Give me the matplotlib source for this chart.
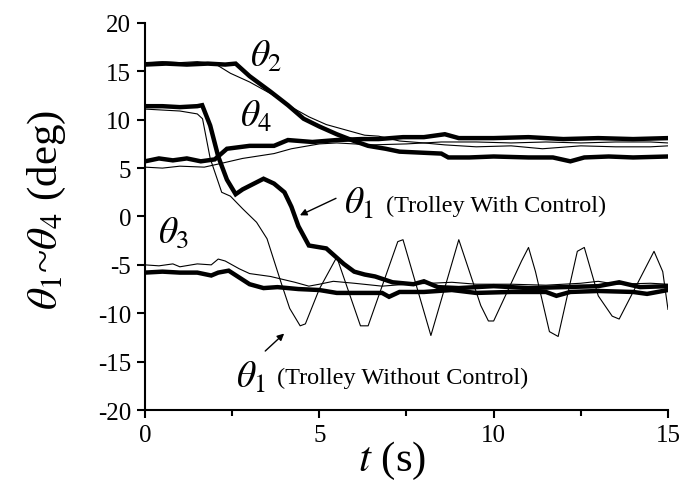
import matplotlib
matplotlib.use("Agg")
import matplotlib.pyplot as plt
from matplotlib.ticker import MultipleLocator

plt.rcParams['font.family'] = ['Liberation Serif', 'DejaVu Serif']
plt.rcParams['mathtext.fontset'] = 'stix'
plt.rcParams['axes.unicode_minus'] = False

# theta2 (thick = trolley with control, thin = without control)
t2_ctrl = [0, 0.6, 1.2, 1.8, 2.3, 2.6, 3.0, 3.6, 4.1, 4.55, 5.0, 5.5, 6.0, 6.4, 6.9, 7.3,
           7.9, 8.5, 8.7, 9.3, 10.0, 11.0, 11.7, 12.2, 12.6, 13.3, 14.0, 15.0]
th2_ctrl = [15.7, 15.8, 15.7, 15.8, 15.7, 15.8, 14.5, 12.9, 11.5, 10.1, 9.3, 8.5, 7.8, 7.3,
            7.0, 6.7, 6.6, 6.5, 6.1, 6.1, 6.2, 6.1, 6.1, 5.7, 6.1, 6.2, 6.1, 6.2]
t2_free = [0, 0.5, 1.0, 1.5, 2.0, 2.45, 3.0, 3.6, 4.2, 4.7, 5.2, 5.7, 6.3, 6.7, 7.3, 8.0,
           8.6, 9.5, 10.5, 11.4, 12.5, 13.5, 14.5, 15]
th2_free = [15.9, 16.0, 15.9, 16.0, 15.8, 14.8, 13.9, 12.7, 11.3, 10.3, 9.5, 9.0, 8.4, 8.3,
            7.8, 7.6, 7.4, 7.2, 7.3, 7.0, 7.3, 7.2, 7.2, 7.3]

# theta4
t4_ctrl = [0, 0.4, 0.8, 1.2, 1.6, 2.0, 2.35, 3.0, 3.7, 4.1, 4.8, 5.5, 6.2, 6.7, 7.4, 8.0,
           8.6, 9.0, 10.0, 11.0, 12.0, 13.0, 14.0, 15]
th4_ctrl = [5.7, 6.0, 5.8, 6.0, 5.7, 5.9, 7.0, 7.3, 7.3, 7.9, 7.7, 7.9, 8.0, 8.0, 8.2, 8.2,
            8.5, 8.1, 8.1, 8.2, 8.0, 8.1, 8.0, 8.1]
t4_free = [0, 0.5, 1.0, 1.7, 2.2, 2.8, 3.7, 4.2, 5.0, 5.5, 6.5, 7.5, 8.5, 9.5, 10.5, 11.5,
           12.5, 13.5, 14.5, 15]
th4_free = [5.1, 5.0, 5.2, 5.1, 5.5, 6.0, 6.5, 7.0, 7.5, 7.6, 7.4, 7.5, 7.7, 7.7, 7.6, 7.7,
            7.6, 7.7, 7.7, 7.6]

# theta1
t1_ctrl = [0, 0.5, 1.0, 1.5, 1.64, 1.87, 2.1, 2.35, 2.6, 2.8, 3.4, 3.7, 4.0, 4.2, 4.4, 4.7,
           5.2, 5.7, 6.0, 6.3, 6.6, 7.1, 7.7, 8.0, 8.4, 9.0, 10.0, 11.0, 12.0, 13.0, 13.6,
           14.2, 15]
th1_ctrl = [11.4, 11.4, 11.3, 11.4, 11.5, 9.4, 6.2, 3.8, 2.3, 2.8, 3.9, 3.4, 2.5, 1.0, -1.0,
            -3.0, -3.3, -4.9, -5.7, -6.0, -6.2, -6.8, -7.0, -6.7, -7.3, -7.4, -7.2, -7.4,
            -7.3, -7.2, -6.8, -7.3, -7.2]
t1_free = [0, 0.5, 1.0, 1.5, 1.65, 1.87, 2.2, 2.45, 2.8, 3.2, 3.5, 3.9, 4.15, 4.45, 4.6,
           5.0, 5.5, 6.18, 6.4, 7.25, 7.4, 8.2, 9.0, 9.63, 9.85, 10.0, 10.8, 11.0, 11.2,
           11.6, 11.85, 12.4, 12.6, 13.0, 13.4, 13.6, 14.3, 14.6, 14.85, 15.0]
th1_free = [11.1, 11.0, 10.9, 10.6, 10.1, 6.0, 2.5, 2.1, 0.8, -0.6, -2.3, -6.8, -9.5, -11.3,
            -11.1, -7.5, -4.2, -11.3, -11.3, -2.6, -2.4, -12.3, -2.4, -9.2, -10.8, -10.8,
            -4.6, -3.2, -5.7, -11.9, -12.4, -3.6, -3.2, -8.2, -10.3, -10.6, -5.7, -3.6,
            -5.7, -9.6]

# theta3
t3_ctrl = [0, 0.5, 1.0, 1.5, 1.9, 2.1, 2.4, 3.0, 3.4, 3.8, 4.4, 5.0, 5.5, 6.0, 6.8, 7.0,
           7.3, 8.0, 8.8, 9.5, 10.5, 11.5, 11.8, 12.2, 13.0, 14.0, 14.4, 15]
th3_ctrl = [-5.8, -5.7, -5.8, -5.8, -6.1, -5.8, -5.6, -7.0, -7.4, -7.3, -7.5, -7.6, -7.9,
            -7.9, -7.9, -8.3, -7.8, -7.8, -7.6, -7.9, -7.8, -7.8, -8.2, -7.8, -7.7, -7.8,
            -8.0, -7.6]
t3_free = [0, 0.4, 0.8, 1.0, 1.5, 1.9, 2.1, 2.3, 2.7, 3.0, 3.6, 4.3, 4.7, 5.0, 5.4, 6.0,
           6.8, 7.5, 8.2, 8.8, 9.5, 10.5, 11.5, 12.5, 13.0, 13.5, 14.5, 15]
th3_free = [-5.0, -5.1, -4.9, -5.2, -4.9, -5.0, -4.4, -4.6, -5.4, -5.9, -6.2, -6.8, -7.2,
            -7.0, -6.7, -6.9, -7.2, -7.0, -6.9, -6.8, -7.0, -7.0, -7.1, -6.9, -6.7, -7.0,
            -6.9, -7.0]

fig = plt.figure(figsize=(6.83, 4.89), dpi=100)
ax = fig.add_axes([0.2123, 0.1595, 0.7657, 0.7915])

thick = 3.2
thin = 0.8
for t, y in [(t2_free, th2_free), (t4_free, th4_free), (t1_free, th1_free), (t3_free, th3_free)]:
    ax.plot(t, y, color='black', lw=thin)
for t, y in [(t2_ctrl, th2_ctrl), (t4_ctrl, th4_ctrl), (t1_ctrl, th1_ctrl), (t3_ctrl, th3_ctrl)]:
    ax.plot(t, y, color='black', lw=thick, solid_joinstyle='miter')

ax.set_xlim(0, 15)
ax.set_ylim(-20, 20)
ax.xaxis.set_major_locator(MultipleLocator(5))
ax.xaxis.set_minor_locator(MultipleLocator(2.5))
ax.yaxis.set_major_locator(MultipleLocator(5))
for s in ['top', 'right']:
    ax.spines[s].set_visible(False)
for s in ['left', 'bottom']:
    ax.spines[s].set_linewidth(1.5)
ax.tick_params(which='major', direction='out', length=6, width=1.5, labelsize=18, pad=4)
ax.tick_params(which='minor', direction='out', length=4, width=1.5)

ax.set_ylabel(r'$\theta_1$~$\theta_4$ (deg)', fontsize=31, labelpad=4)
ax.yaxis.set_label_coords(-0.148, 0.52)
ax.set_xlabel(r'$t$ (s)', fontsize=31, labelpad=0)
ax.xaxis.set_label_coords(0.472, -0.075)

big = 27
ax.text(3.0, 15.6, r'$\theta_2$', fontsize=big)
ax.text(2.73, 9.4, r'$\theta_4$', fontsize=big)
ax.text(0.37, -2.6, r'$\theta_3$', fontsize=big)
ax.text(5.7, 0.4, r'$\theta_1$', fontsize=big)
ax.text(6.9, 0.6, '(Trolley With Control)', fontsize=17.5)
ax.text(2.6, -17.6, r'$\theta_1$', fontsize=big)
ax.text(3.8, -17.2, '(Trolley Without Control)', fontsize=17.5)

ax.annotate('', xy=(4.37, 0.0), xytext=(5.55, 2.0),
            arrowprops=dict(arrowstyle='-|>', color='black', lw=1, mutation_scale=10))
ax.annotate('', xy=(4.05, -11.9), xytext=(3.39, -14.1),
            arrowprops=dict(arrowstyle='-|>', color='black', lw=1, mutation_scale=10))

fig.savefig('out.png', dpi=100)
